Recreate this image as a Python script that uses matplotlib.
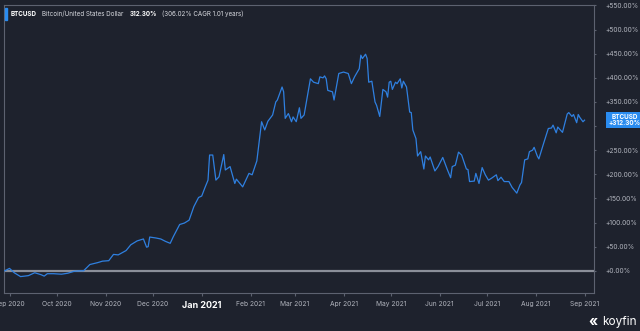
import matplotlib
matplotlib.use("Agg")
import matplotlib.pyplot as plt
import matplotlib.dates as mdates
import numpy as np
import pandas as pd

# BTCUSD cumulative return (%)
dates = [
    "2020-08-29", "2020-09-01", "2020-09-04", "2020-09-08", "2020-09-13", "2020-09-17",
    "2020-09-21", "2020-09-23", "2020-09-25", "2020-09-29", "2020-10-04", "2020-10-08",
    "2020-10-12", "2020-10-16", "2020-10-18", "2020-10-22", "2020-10-27", "2020-10-30",
    "2020-11-03", "2020-11-06", "2020-11-09", "2020-11-14", "2020-11-17", "2020-11-21",
    "2020-11-25", "2020-11-27", "2020-11-28", "2020-11-29", "2020-12-03", "2020-12-06",
    "2020-12-09", "2020-12-12", "2020-12-14", "2020-12-18", "2020-12-21", "2020-12-24",
    "2020-12-27", "2020-12-30", "2021-01-01", "2021-01-03", "2021-01-05", "2021-01-06",
    "2021-01-08", "2021-01-10", "2021-01-12", "2021-01-15", "2021-01-16", "2021-01-19",
    "2021-01-22", "2021-01-23", "2021-01-27", "2021-01-31", "2021-02-02", "2021-02-05",
    "2021-02-08", "2021-02-10", "2021-02-12", "2021-02-15", "2021-02-17", "2021-02-18",
    "2021-02-21", "2021-02-22", "2021-02-23", "2021-02-25", "2021-02-27", "2021-02-28",
    "2021-03-02", "2021-03-04", "2021-03-05", "2021-03-07", "2021-03-11", "2021-03-13",
    "2021-03-16", "2021-03-17", "2021-03-19", "2021-03-20", "2021-03-21", "2021-03-22",
    "2021-03-25", "2021-03-26", "2021-03-29", "2021-04-01", "2021-04-04", "2021-04-06",
    "2021-04-08", "2021-04-11", "2021-04-12", "2021-04-13", "2021-04-15", "2021-04-16",
    "2021-04-17", "2021-04-19", "2021-04-21", "2021-04-22", "2021-04-24", "2021-04-26",
    "2021-04-28", "2021-04-29", "2021-04-30", "2021-05-01", "2021-05-02", "2021-05-04",
    "2021-05-05", "2021-05-07", "2021-05-08", "2021-05-09", "2021-05-11", "2021-05-13",
    "2021-05-14", "2021-05-15", "2021-05-17", "2021-05-18", "2021-05-20", "2021-05-22",
    "2021-05-23", "2021-05-25", "2021-05-26", "2021-05-29", "2021-05-31", "2021-06-03",
    "2021-06-06", "2021-06-08", "2021-06-09", "2021-06-11", "2021-06-13", "2021-06-15",
    "2021-06-18", "2021-06-19", "2021-06-20", "2021-06-23", "2021-06-24", "2021-06-26",
    "2021-06-28", "2021-06-30", "2021-07-02", "2021-07-04", "2021-07-07", "2021-07-08",
    "2021-07-10", "2021-07-12", "2021-07-15", "2021-07-17", "2021-07-20", "2021-07-22",
    "2021-07-23", "2021-07-25", "2021-07-27", "2021-07-28", "2021-07-30", "2021-07-31",
    "2021-08-02", "2021-08-03", "2021-08-06", "2021-08-09", "2021-08-11", "2021-08-12",
    "2021-08-14", "2021-08-15", "2021-08-18", "2021-08-21", "2021-08-22", "2021-08-24",
    "2021-08-25", "2021-08-27", "2021-08-28", "2021-08-29", "2021-08-31", "2021-09-01",
]
pct = [
    0, 5, -4, -12, -10, -4,
    -8, -11, -6, -6, -7, -5,
    -1, 0, 0, 13, 17, 20,
    21, 34, 33, 42, 54, 62,
    66, 49, 50, 70, 68, 66,
    61, 57, 71, 96, 99, 105,
    133, 152, 155, 172, 188, 240,
    240, 188, 195, 241, 209, 216,
    181, 190, 174, 202, 199, 228,
    309, 292, 310, 323, 350, 354,
    381, 371, 316, 326, 309, 319,
    309, 338, 316, 323, 398, 391,
    388, 402, 400, 404, 398, 374,
    371, 354, 409, 412, 409, 388,
    402, 419, 447, 440, 449, 440,
    391, 393, 350, 343, 320, 376,
    371, 360, 391, 393, 376, 391,
    388, 398, 379, 393, 381, 329,
    328, 292, 274, 238, 247, 211,
    238, 230, 236, 207, 216, 235,
    209, 193, 216, 219, 246, 240,
    211, 210, 185, 186, 202, 181,
    214, 199, 188, 192, 199, 187,
    194, 185, 185, 173, 161, 178,
    183, 230, 232, 247, 250, 256,
    238, 232, 264, 295, 296, 302,
    286, 298, 287, 325, 328, 320,
    324, 307, 324, 318, 309, 312.3,
]
yticks = list(range(0, 551, 50))
last_label = "BTCUSD\n+312.30%"
header = [("BTCUSD", True), ("Bitcoin/United States Dollar", False),
          ("312.30%", True), ("(306.02% CAGR 1.01 years)", False)]

bg = "#1e222d"
grid_c = "#5d6270"
txt_c = "#b2b5be"
line_c = "#2f80e0"

plt.rcParams['font.family'] = ['Inter', 'DejaVu Sans']

x = pd.to_datetime(dates)

fig = plt.figure(figsize=(6.4, 3.31), dpi=100, facecolor=bg)
ax = fig.add_axes([4 / 640, 1 - 293 / 331, 590 / 640, 288 / 331], facecolor=bg)

ax.plot(x, pct, color=line_c, lw=0.9, zorder=3)
ax.axhline(0, color="#8b8f99", lw=1.6, zorder=2)

ax.set_xlim(pd.Timestamp("2020-08-28 12:00"), pd.Timestamp("2021-09-07"))
ax.set_ylim(-46, 551)

for s in ax.spines.values():
    s.set_color(grid_c)
    s.set_linewidth(0.8)

ax.yaxis.tick_right()
ax.set_yticks(yticks)
# +300% sits under the last-value box
ax.set_yticklabels(["" if v == 300 else "+{:.2f}%".format(v) for v in yticks])
ax.tick_params(axis="y", colors=grid_c, labelcolor=txt_c, labelsize=4.8, length=1.5, pad=7)

ax.xaxis.set_major_locator(mdates.MonthLocator())
ax.xaxis.set_major_formatter(mdates.DateFormatter("%b %Y"))
ax.tick_params(axis="x", colors=grid_c, labelcolor=txt_c, labelsize=4.8, length=2.5, pad=3)
for lab in ax.get_xticklabels():
    if lab.get_text() == "Jan 2021":
        lab.set_fontsize(6.5)
        lab.set_color("white")
        lab.set_fontweight("bold")

# last value box
ax.annotate(last_label, xy=(1.0, pct[-1]), xycoords=("axes fraction", "data"),
            xytext=(22, 0), textcoords="offset points", ha="center", va="center",
            fontsize=4.6, color="white", fontweight="bold", linespacing=1.0,
            bbox=dict(boxstyle="square,pad=0.35", fc="#2a8cf0", ec="none"),
            annotation_clip=False, zorder=5)

# header: blue marker + pieces laid out one after another
fig.patches.append(plt.Rectangle((5 / 640, 1 - 20 / 331), 2 / 640, 12 / 331,
                                 transform=fig.transFigure, color="#2a8cf0"))
hy = 1 - 14 / 331
r = fig.canvas.get_renderer()
xpos = 11
for s, bold in header:
    t = fig.text(xpos / 640, hy, s, color="white" if bold else "#d6d8de", fontsize=4.5,
                 fontweight="bold" if bold else "normal", va="center")
    xpos += t.get_window_extent(r).width + 5.5

# logo
fig.text(637 / 640, 1 - 322 / 331, "koyfin", color="white", fontsize=8.5, ha="right", va="center")
fig.text(598 / 640, 1 - 322 / 331, "\u00ab", color="white", fontsize=10, ha="right", va="center",
         fontweight="bold")

fig.savefig("out.png", dpi=100, facecolor=bg)
